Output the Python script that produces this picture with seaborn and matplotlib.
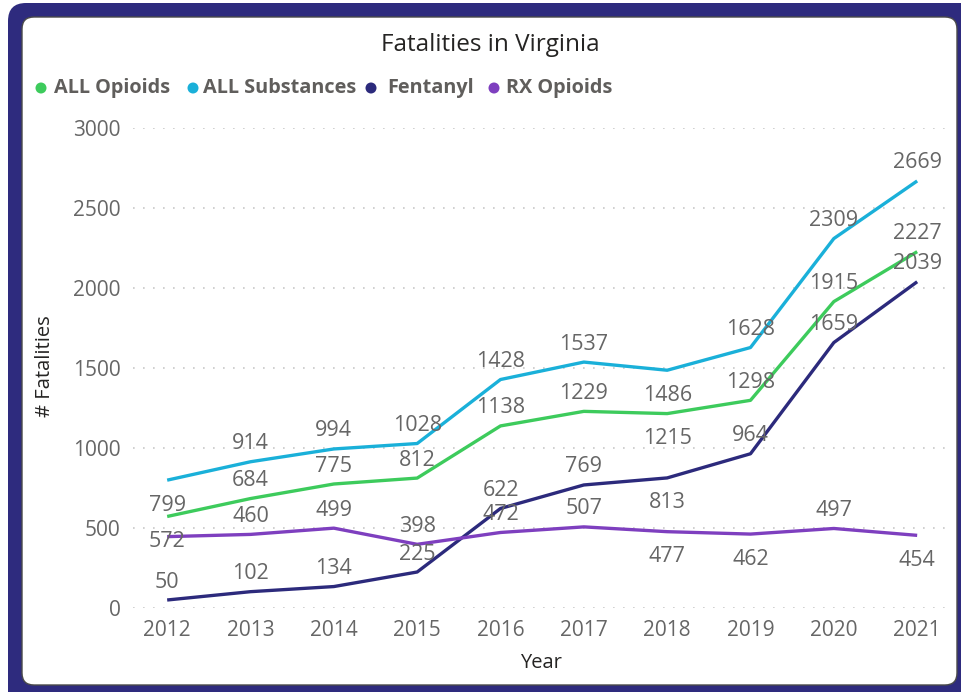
import matplotlib
matplotlib.use("Agg")
import matplotlib.pyplot as plt
from matplotlib.patches import FancyBboxPatch, Circle
from matplotlib.transforms import IdentityTransform
import seaborn as sns
import pandas as pd

# ---- data ----
years = [2012, 2013, 2014, 2015, 2016, 2017, 2018, 2019, 2020, 2021]
all_opioids = [572, 684, 775, 812, 1138, 1229, 1215, 1298, 1915, 2227]
all_substances = [799, 914, 994, 1028, 1428, 1537, 1486, 1628, 2309, 2669]
fentanyl = [50, 102, 134, 225, 622, 769, 813, 964, 1659, 2039]
rx_opioids = [446, 460, 499, 398, 472, 507, 477, 462, 497, 454]
series_names = ["ALL Opioids", "ALL Substances", "Fentanyl", "RX Opioids"]
y_ticks = [0, 500, 1000, 1500, 2000, 2500, 3000]

# ---- styles ----
colors = {"ALL Opioids": "#3DCB5C", "ALL Substances": "#1AB0D9",
          "Fentanyl": "#2C2A7C", "RX Opioids": "#7E3FBF"}
# label placement: 'u' above, 'd' below, None hidden
placement = {
    "ALL Opioids":    ['d', 'u', 'u', 'u', 'u', 'u', 'd', 'u', 'u', 'u'],
    "ALL Substances": ['d', 'u', 'u', 'u', 'u', 'u', 'd', 'u', 'u', 'u'],
    "Fentanyl":       ['u', 'u', 'u', 'u', 'u', 'u', 'd', 'u', 'u', 'u'],
    "RX Opioids":     [None, 'u', 'u', 'u', 'u', 'u', 'd', 'd', 'u', 'd'],
}

values = {"ALL Opioids": all_opioids, "ALL Substances": all_substances,
          "Fentanyl": fentanyl, "RX Opioids": rx_opioids}
rows = []
for name in series_names:
    for y, v in zip(years, values[name]):
        rows.append({"Year": y, "Count": v, "Series": name})
df = pd.DataFrame(rows)

sns.set_style("white")
plt.rcParams["font.family"] = ["Open Sans", "DejaVu Sans"]

W, H = 961, 692
fig = plt.figure(figsize=(W / 100, H / 100), dpi=100)
fig.patch.set_facecolor("white")

# frame
outer = FancyBboxPatch((8, -20), W + 20 - 8, H - 3 + 20,
                       boxstyle="round,pad=0,rounding_size=18",
                       transform=IdentityTransform(), facecolor="#2E2B7E",
                       edgecolor="none", zorder=0)
inner = FancyBboxPatch((22, H - 685), 957 - 22, 685 - 17,
                       boxstyle="round,pad=0,rounding_size=12",
                       transform=IdentityTransform(), facecolor="white",
                       edgecolor="#4A4A4A", linewidth=1.0, zorder=1)
fig.patches.extend([outer, inner])

ax = fig.add_axes([133 / W, 84 / H, 815 / W, 480 / H])
ax.set_facecolor("none")
ax.set_zorder(2)

sns.lineplot(data=df, x="Year", y="Count", hue="Series", hue_order=series_names,
             palette=colors, linewidth=2.4, legend=False, ax=ax)
for ln in ax.get_lines():
    ln.set_clip_on(False)
    ln.set_solid_capstyle("butt")

for name in series_names:
    for y, v, p in zip(years, values[name], placement[name]):
        if p is None:
            continue
        off = 18 if p == 'u' else -25
        ax.annotate(str(v), (y, v), xytext=(0, off), textcoords="offset pixels",
                    ha="center", va="center", fontsize=15.5, color="#666666")

ax.set_xlim(2011.59, 2021.37)
ax.set_ylim(0, 3000)
ax.set_yticks(y_ticks)
ax.set_xticks(years)
ax.set_xticklabels([str(y) for y in years])
ax.tick_params(axis="both", length=0, labelsize=15, labelcolor="#666666")
ax.tick_params(axis="y", pad=9)
ax.tick_params(axis="x", pad=9)
ax.yaxis.grid(True, linestyle=(0, (1, 5)), color="#C8C8C8", linewidth=1.2)
ax.xaxis.grid(False)
for s in ax.spines.values():
    s.set_visible(False)
ax.set_xlabel("")
ax.set_ylabel("")

fig.text(45 / W, 1 - 366 / H, "# Fatalities", rotation=90, ha="center", va="center",
         fontsize=14.5, color="#252423")
fig.text(541 / W, 1 - 663 / H, "Year", ha="center", va="center",
         fontsize=14.5, color="#252423")
fig.text(490 / W, 1 - 45 / H, "Fatalities in Virginia", ha="center", va="center",
         fontsize=17.5, color="#252423")

# legend
dot_x = [41, 193, 371, 494]
txt_x = [54, 203, 387, 506]
for name, dx, tx in zip(series_names, dot_x, txt_x):
    fig.patches.append(Circle((dx, H - 88), 5.5, transform=IdentityTransform(),
                              facecolor=colors[name], edgecolor="none", zorder=3))
    fig.text(tx / W, 1 - 88 / H, name, ha="left", va="center", fontsize=14.3,
             fontweight="bold", color="#605E5C")

fig.savefig("out.png", dpi=100)
